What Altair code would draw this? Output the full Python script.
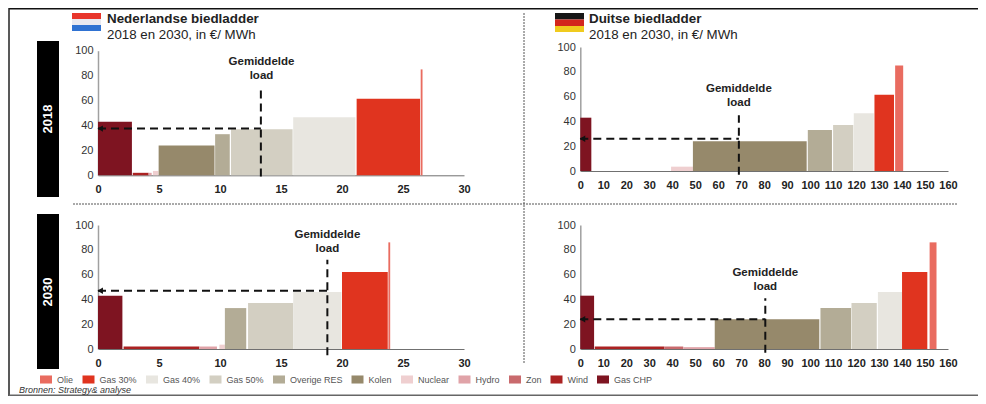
import altair as alt
import pandas as pd

W, H = 970, 388
OX, OY = 8, 8
FONT = "Liberation Sans"

FUELS = ["Olie", "Gas 30%", "Gas 40%", "Gas 50%", "Overige RES", "Kolen",
         "Nuclear", "Hydro", "Zon", "Wind", "Gas CHP"]
COLORS = ["#e96c60", "#e0341f", "#e8e6e0", "#d3cfc2", "#b3ac96", "#96896b",
          "#efcfd0", "#e0a3a8", "#c96a6d", "#ab2222", "#7e1421"]

NL18_FUEL = ["Gas CHP", "Wind", "Hydro", "Nuclear", "Kolen", "Overige RES", "Gas 50%", "Gas 40%", "Gas 30%", "Olie"]
NL18_X0 = [0, 2.85, 4.15, 4.5, 4.97, 9.6, 10.9, 16.0, 21.2, 26.45]
NL18_X1 = [2.78, 4.15, 4.4, 4.95, 9.55, 10.8, 15.95, 21.1, 26.4, 26.6]
NL18_V = [43, 2, 2, 3.5, 24, 33, 37, 46.5, 61.5, 85]

DE18_FUEL = ["Gas CHP", "Nuclear", "Kolen", "Overige RES", "Gas 50%", "Gas 40%", "Gas 30%", "Olie"]
DE18_X0 = [0, 39.5, 49, 99, 110, 119, 128, 137]
DE18_X1 = [4.8, 49, 98.5, 109.5, 118.8, 127.7, 136.5, 140.5]
DE18_V = [43, 3.5, 24, 33, 37, 46.5, 61.5, 85]

NL30_FUEL = ["Gas CHP", "Wind", "Hydro", "Nuclear", "Overige RES", "Gas 50%", "Gas 40%", "Gas 30%", "Olie"]
NL30_X0 = [0, 2.1, 8.3, 9.95, 10.4, 12.3, 16.0, 20.0, 23.8]
NL30_X1 = [2.0, 8.3, 9.75, 10.4, 12.15, 16.0, 19.95, 23.75, 23.95]
NL30_V = [43, 2, 2, 3.5, 33, 37, 46, 62, 86]

DE30_FUEL = ["Gas CHP", "Wind", "Zon", "Hydro", "Kolen", "Overige RES", "Gas 50%", "Gas 40%", "Gas 30%", "Olie"]
DE30_X0 = [0, 6.3, 36.5, 44.8, 58.5, 104.5, 118, 129.5, 140, 152]
DE30_X1 = [6.0, 36.5, 44.8, 58.5, 104, 117.8, 129, 140, 151, 155]
DE30_V = [43, 2, 2, 1.5, 24, 33, 37, 46, 62, 86]

NL_TICKS = [0, 5, 10, 15, 20, 25, 30]
DE_TICKS = list(range(0, 170, 10))
Y_TICKS = [0, 20, 40, 60, 80, 100]

legend = alt.Legend(
    orient="none", legendX=40 - OX, legendY=379.5 - OY - 6, direction="horizontal", columns=11,
    title=None, symbolType="M-1,-0.67H1V0.67H-1Z", symbolSize=144, symbolStrokeWidth=0,
    columnPadding=8.5, labelFont=FONT, labelFontSize=9, labelColor="#555555", labelOffset=5,
    padding=0, symbolOpacity=1,
)
color = alt.Color("fuel:N", scale=alt.Scale(domain=FUELS, range=COLORS), legend=legend)


def panel(fuel, x0, x1, v, xmax, ticks, px0, px1, py0, py100, load_x, load_top, load_bot, arrow_y, lab_x, lab_y1, lab_y2):
    xs = alt.Scale(domain=[0, xmax], range=[px0 - OX, px1 - OX])
    ys = alt.Scale(domain=[0, 100], range=[py0 - OY, py100 - OY])
    xax = alt.Axis(values=ticks, orient="bottom", offset=-(H - (py0 - OY)), title=None, grid=False, ticks=False,
                   labelPadding=8, labelFont=FONT, labelFontSize=11, labelFontWeight="bold", labelColor="#222222",
                   domainColor="#707070", domainWidth=1, labelOverlap=False, labelFlush=False)
    yax = alt.Axis(values=Y_TICKS, orient="left", offset=-(px0 - OX), title=None, grid=False, ticks=False,
                   labelPadding=5, labelFont=FONT, labelFontSize=11, labelColor="#333333",
                   domainColor="#a0a0a0", domainWidth=1.5)
    df = pd.DataFrame({"fuel": fuel, "x0": x0, "x1": x1, "v": v, "b": 0})
    bars = alt.Chart(df).mark_rect().encode(
        x=alt.X("x0:Q", scale=xs, axis=xax), x2="x1:Q",
        y=alt.Y("b:Q", scale=ys, axis=yax), y2="v:Q",
        color=color,
    )
    dash = dict(color="#111111", strokeWidth=2, strokeDash=[8, 5])
    vline = alt.Chart(pd.DataFrame({"x": [load_x], "a": [load_bot], "b": [load_top]})).mark_rule(**dash).encode(
        x=alt.X("x:Q", scale=xs, axis=None), y=alt.Y("a:Q", scale=ys, axis=None), y2="b:Q")
    hline = alt.Chart(pd.DataFrame({"a": [0], "b": [load_x], "y": [arrow_y]})).mark_rule(**dash).encode(
        x=alt.X("a:Q", scale=xs, axis=None), x2="b:Q", y=alt.Y("y:Q", scale=ys, axis=None))
    head = alt.Chart(pd.DataFrame({"x": [xmax * 0.006], "y": [arrow_y]})).mark_point(
        shape="triangle-left", filled=True, size=40, color="#111111", opacity=1).encode(
        x=alt.X("x:Q", scale=xs, axis=None), y=alt.Y("y:Q", scale=ys, axis=None))
    lab = alt.Chart(pd.DataFrame({"t": ["Gemiddelde", "load"], "x": [lab_x, lab_x], "y": [lab_y1, lab_y2]})).mark_text(
        font=FONT, fontSize=11.5, fontWeight="bold", color="#222222", align="center", baseline="middle").encode(
        text="t:N", x=alt.X("x:Q", scale=xs, axis=None), y=alt.Y("y:Q", scale=ys, axis=None))
    return alt.layer(bars, vline, hline, head, lab).resolve_axis(x="independent", y="independent")


EMPTY = alt.Data(values=[{"a": 1}])


def box(x0, x1, y0, y1, fill):
    return alt.Chart(EMPTY).mark_rect(color=fill).encode(
        x=alt.value(x0 - OX), x2=alt.value(x1 - OX), y=alt.value(y0 - OY), y2=alt.value(y1 - OY))


def line(x0, x1, y0, y1, col, w, dash=None):
    kw = dict(color=col, strokeWidth=w)
    if dash:
        kw["strokeDash"] = dash
    return alt.Chart(EMPTY).mark_rule(**kw).encode(
        x=alt.value(x0 - OX), x2=alt.value(x1 - OX), y=alt.value(y0 - OY), y2=alt.value(y1 - OY))


def txt(s, x, y, size, weight="normal", col="#222222", align="left", angle=0, style="normal"):
    return alt.Chart(EMPTY).mark_text(text=s, font=FONT, fontSize=size, fontWeight=weight, color=col, align=align,
                                      baseline="middle", angle=angle, fontStyle=style).encode(
        x=alt.value(x - OX), y=alt.value(y - OY))


deco = [
    line(9, 978, 8.5, 8.5, "#111111", 2),
    line(9, 9, 8, 396, "#222222", 1.5),
    line(9, 978, 395.2, 395.2, "#666666", 1.5),
    line(73, 957, 204, 204, "#555555", 1, [2, 1]),
    line(524, 524, 13, 364, "#555555", 1, [2, 1]),
    box(37, 59, 41, 197, "#000000"),
    box(37, 59, 214, 369, "#000000"),
    txt("2018", 47.5, 119, 13, "bold", "#ffffff", "center", 270),
    txt("2030", 47.5, 292, 13, "bold", "#ffffff", "center", 270),
    box(72, 101, 13, 19, "#e8352b"), box(72, 101, 19, 25, "#e9e9f0"), box(72, 101, 25, 31, "#2f72d2"),
    box(555, 584, 13, 19.5, "#161616"), box(555, 584, 19.5, 26, "#d3261c"), box(555, 584, 26, 32, "#f0cb1e"),
    txt("Nederlandse biedladder", 107, 19, 13.4, "bold"),
    txt("2018 en 2030, in €/ MWh", 107, 35, 13.3),
    txt("Duitse biedladder", 589, 19, 13.4, "bold"),
    txt("2018 en 2030, in €/ MWh", 589, 35, 13.3),
    txt("Bronnen: Strategy& analyse", 19, 390, 9, style="italic", col="#333333"),
]

panels = [
    panel(NL18_FUEL, NL18_X0, NL18_X1, NL18_V, 30, NL_TICKS, 98, 464, 175.3, 50.7, 13.35, 70.8, -1, 37.5, 13.4, 91, 80),
    panel(DE18_FUEL, DE18_X0, DE18_X1, DE18_V, 160, DE_TICKS, 580.3, 948, 171, 47, 69, 45, -3, 26, 69, 65.8, 55),
    panel(NL30_FUEL, NL30_X0, NL30_X1, NL30_V, 30, NL_TICKS, 98, 464, 349, 225, 18.8, 72, -5, 47, 18.8, 92, 81),
    panel(DE30_FUEL, DE30_X0, DE30_X1, DE30_V, 160, DE_TICKS, 580.3, 948, 349, 225, 80.5, 41, -3, 24, 80.5, 61, 50),
]

chart = alt.layer(*deco, *panels).resolve_scale(x="independent", y="independent").resolve_axis(
    x="independent", y="independent"
).properties(
    width=W, height=H, padding=0, autosize=alt.AutoSizeParams(type="none"), background="#ffffff"
).configure_view(stroke=None)

chart.save("out.html", embed_options={"renderer": "svg", "actions": False})
